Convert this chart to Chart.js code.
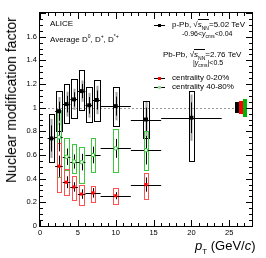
<!DOCTYPE html>
<html>
<head>
<meta charset="utf-8">
<script src="https://cdn.jsdelivr.net/npm/chart.js@4"></script>
<style>
html, body { margin: 0; padding: 0; background: #fff; }
#wrap { position: relative; width: 266px; height: 258px; font-family: "Liberation Sans", Arial, sans-serif; color: #000; }
#wrap canvas { position: absolute; left: 0; top: 0; }
.t { position: absolute; white-space: nowrap; font-size: 8px; line-height: 8px; }
.t sub, .t sup { font-size: 5px; line-height: 0; }
.ov { border-top: 0.8px solid #000; }
</style>
</head>
<body>
<div id="wrap">
  <canvas id="chart" width="266" height="258"></canvas>
  <div class="t" style="left:50px;top:20px;">ALICE</div>
  <div class="t" style="left:50px;top:36px;">Average D<sup>0</sup>, D<sup>+</sup>, D<sup>*+</sup></div>
  <div class="t" style="left:172px;top:21px;">p-Pb, √<span class="ov"><i>s</i><sub>NN</sub></span>=5.02 TeV</div>
  <div class="t" style="left:182px;top:30px;font-size:7px;">-0.96&lt;<i>y</i><sub>cms</sub>&lt;0.04</div>
  <div class="t" style="left:163px;top:51px;">Pb-Pb, √<span class="ov"><i>s</i><sub>NN</sub></span>=2.76 TeV</div>
  <div class="t" style="left:193px;top:59px;font-size:7px;">|<i>y</i><sub>cms</sub>|&lt;0.5</div>
  <div class="t" style="left:172px;top:74px;">centrality 0-20%</div>
  <div class="t" style="left:172px;top:83px;">centrality 40-80%</div>
  <div class="t" style="left:195px;top:239px;font-size:13px;line-height:13px;"><i>p</i><sub style="font-size:8px;">T</sub> (GeV/<i>c</i>)</div>
  <div class="t" style="left:11px;top:100px;font-size:14px;line-height:14px;transform:translate(-50%,-50%) rotate(-90deg);">Nuclear modification factor</div>
</div>
<script>
'use strict';

// p-Pb, sqrt(sNN) = 5.02 TeV
const ppbPt = [1.5, 2.5, 3.5, 4.5, 5.5, 6.5, 7.5, 10, 14, 20];
const ppbPtLow = [1, 2, 3, 4, 5, 6, 7, 8, 12, 16];
const ppbPtHigh = [2, 3, 4, 5, 6, 7, 8, 12, 16, 24];
const ppbR = [0.74, 0.97, 1.03, 1.07, 1.14, 1.02, 1.065, 1.013, 0.90, 0.915];
const ppbStat = [0.11, 0.08, 0.07, 0.06, 0.06, 0.07, 0.08, 0.08, 0.10, 0.13];
const ppbSysLow = [0.54, 0.80, 0.87, 0.91, 0.98, 0.88, 0.89, 0.845, 0.74, 0.55];
const ppbSysHigh = [0.945, 1.14, 1.20, 1.24, 1.32, 1.175, 1.23, 1.175, 1.055, 1.14];

// Pb-Pb, sqrt(sNN) = 2.76 TeV
const pbpbPt = [2.5, 3.5, 4.5, 5.5, 7, 10, 14];
const pbpbPtLow = [2, 3, 4, 5, 6, 8, 12];
const pbpbPtHigh = [3, 4, 5, 6, 8, 12, 16];
// centrality 0-20%
const centralR = [0.505, 0.37, 0.33, 0.27, 0.28, 0.256, 0.35];
const centralStat = [0.09, 0.05, 0.04, 0.04, 0.04, 0.03, 0.06];
const centralSysLow = [0.285, 0.26, 0.22, 0.175, 0.20, 0.19, 0.23];
const centralSysHigh = [0.70, 0.48, 0.42, 0.35, 0.34, 0.32, 0.45];
// centrality 40-80%
const periphR = [0.75, 0.585, 0.545, 0.54, 0.60, 0.656, 0.64];
const periphStat = [0.12, 0.07, 0.06, 0.07, 0.07, 0.08, 0.12];
const periphSysLow = [0.41, 0.475, 0.45, 0.36, 0.46, 0.46, 0.47];
const periphSysHigh = [0.98, 0.74, 0.69, 0.67, 0.74, 0.816, 0.80];

// normalisation uncertainties around unity (p-Pb, 0-20%, 40-80%)
const normLow = [0.951, 0.943, 0.922];
const normHigh = [1.044, 1.055, 1.072];
const normColors = ['#000000', '#ff0000', '#00b400'];

const xTicks = [0, 5, 10, 15, 20, 25];
const yTicks = [0, 0.2, 0.4, 0.6, 0.8, 1, 1.2, 1.4, 1.6];

const RED = '#ff0000';
const RED_BOX = '#ff5050';
const GREEN = '#33bb33';
const GREEN_BOX = '#3cc83c';

function toPoints(xs, ys) {
    return xs.map(function(x, i) { return { x: x, y: ys[i] }; });
}

function crisp(v) {
    return Math.round(v) + 0.5;
}

function drawBoxes(ctx, xs, lows, highs, halfWidth, color, xScale, yScale) {
    ctx.strokeStyle = color;
    ctx.lineWidth = 1;
    xs.forEach(function(x, i) {
        const l = crisp(xScale.getPixelForValue(x - halfWidth));
        const r = crisp(xScale.getPixelForValue(x + halfWidth));
        const t = crisp(yScale.getPixelForValue(highs[i]));
        const b = crisp(yScale.getPixelForValue(lows[i]));
        ctx.strokeRect(l, t, r - l, b - t);
    });
}

function drawErrors(ctx, xs, xl, xh, ys, stat, color, xScale, yScale) {
    ctx.strokeStyle = color;
    ctx.lineWidth = 1;
    xs.forEach(function(x, i) {
        const px = crisp(xScale.getPixelForValue(x));
        const py = crisp(yScale.getPixelForValue(ys[i]));
        ctx.beginPath();
        ctx.moveTo(xScale.getPixelForValue(xl[i]), py);
        ctx.lineTo(xScale.getPixelForValue(xh[i]), py);
        ctx.moveTo(px, yScale.getPixelForValue(ys[i] + stat[i]));
        ctx.lineTo(px, yScale.getPixelForValue(ys[i] - stat[i]));
        ctx.stroke();
    });
}

const errorPlugin = {
    id: 'errorPlugin',
    beforeDatasetsDraw: function(chart) {
        const ctx = chart.ctx;
        const xs = chart.scales.x;
        const ys = chart.scales.y;
        const area = chart.chartArea;
        ctx.save();

        // reference line at unity
        ctx.strokeStyle = '#999';
        ctx.setLineDash([2, 2]);
        ctx.beginPath();
        ctx.moveTo(area.left, crisp(ys.getPixelForValue(1)));
        ctx.lineTo(area.right, crisp(ys.getPixelForValue(1)));
        ctx.stroke();
        ctx.setLineDash([]);

        // p-Pb grey band behind the stat bars
        ctx.strokeStyle = '#a0a0a0';
        ctx.lineWidth = 2;
        ppbPt.forEach(function(x, i) {
            const px = Math.round(xs.getPixelForValue(x)) + 0.5;
            ctx.beginPath();
            ctx.moveTo(px, ys.getPixelForValue(ppbR[i] + ppbStat[i] * 1.5));
            ctx.lineTo(px, ys.getPixelForValue(ppbR[i] - ppbStat[i] * 1.5));
            ctx.stroke();
        });

        drawBoxes(ctx, ppbPt, ppbSysLow, ppbSysHigh, 0.37, '#000', xs, ys);
        drawErrors(ctx, ppbPt, ppbPtLow, ppbPtHigh, ppbR, ppbStat, '#000', xs, ys);
        drawBoxes(ctx, pbpbPt, periphSysLow, periphSysHigh, 0.3, GREEN_BOX, xs, ys);
        drawBoxes(ctx, pbpbPt, centralSysLow, centralSysHigh, 0.3, RED_BOX, xs, ys);
        drawErrors(ctx, pbpbPt, pbpbPtLow, pbpbPtHigh, periphR, periphStat, '#000', xs, ys);
        drawErrors(ctx, pbpbPt, pbpbPtLow, pbpbPtHigh, centralR, centralStat, '#000', xs, ys);

        // normalisation boxes at the right edge
        const normX = [26.0, 26.55, 27.1];
        normX.forEach(function(x, i) {
            const l = Math.round(xs.getPixelForValue(x - 0.27));
            const r = Math.round(xs.getPixelForValue(x + 0.27));
            const t = Math.round(ys.getPixelForValue(normHigh[i]));
            const b = Math.round(ys.getPixelForValue(normLow[i]));
            ctx.fillStyle = normColors[i];
            ctx.fillRect(l, t, r - l, b - t);
        });

        ctx.restore();
    },
    afterDatasetsDraw: function(chart) {
        const ctx = chart.ctx;
        const xs = chart.scales.x;
        const ys = chart.scales.y;
        const a = chart.chartArea;
        ctx.save();
        ctx.strokeStyle = '#000';
        ctx.lineWidth = 1;
        ctx.strokeRect(crisp(a.left) - 1, crisp(a.top) - 1, Math.round(a.right - a.left) + 1, Math.round(a.bottom - a.top) + 1);

        ctx.beginPath();
        for (let v = 0; v <= 28; v += 1) {
            const px = crisp(xs.getPixelForValue(v));
            const len = v % 5 === 0 ? 6 : 3;
            ctx.moveTo(px, a.bottom);
            ctx.lineTo(px, a.bottom - len);
            ctx.moveTo(px, a.top);
            ctx.lineTo(px, a.top + len);
        }
        for (let k = 0; k <= 36; k++) {
            const py = crisp(ys.getPixelForValue(k * 0.05));
            const len = k % 4 === 0 ? 6 : 3;
            ctx.moveTo(a.left, py);
            ctx.lineTo(a.left + len, py);
            ctx.moveTo(a.right, py);
            ctx.lineTo(a.right - len, py);
        }
        ctx.stroke();

        // legend glyphs
        const legend = [
            { y: 25, color: '#000', style: 'square' },
            { y: 78, color: RED, style: 'square' },
            { y: 87, color: GREEN, style: 'circle' }
        ];
        legend.forEach(function(item) {
            ctx.strokeStyle = '#000';
            ctx.beginPath();
            ctx.moveTo(154, item.y + 0.5);
            ctx.lineTo(165, item.y + 0.5);
            ctx.stroke();
            ctx.fillStyle = item.color;
            if (item.style === 'square') {
                ctx.fillRect(158, item.y - 1, 3, 3);
            } else {
                ctx.fillStyle = '#99dd99';
                ctx.beginPath();
                ctx.arc(159.5, item.y + 0.5, 1.8, 0, Math.PI * 2);
                ctx.fill();
            }
        });
        ctx.restore();
    }
};

const ctx = document.getElementById('chart');
new Chart(ctx, {
    type: 'scatter',
    data: {
        datasets: [
            {
                label: 'p-Pb',
                data: toPoints(ppbPt, ppbR),
                pointStyle: 'rect',
                pointRadius: 2.8,
                backgroundColor: '#000',
                borderColor: '#000',
                borderWidth: 0
            },
            {
                label: 'centrality 40-80%',
                data: toPoints(pbpbPt, periphR),
                pointStyle: 'circle',
                pointRadius: 1.8,
                backgroundColor: '#ffffff',
                borderColor: GREEN,
                borderWidth: 1
            },
            {
                label: 'centrality 0-20%',
                data: toPoints(pbpbPt, centralR),
                pointStyle: 'rect',
                pointRadius: 2.2,
                backgroundColor: RED,
                borderColor: RED,
                borderWidth: 0
            }
        ]
    },
    options: {
        responsive: false,
        animation: false,
        devicePixelRatio: 1,
        layout: {
            padding: { top: 13, right: 14, left: 0, bottom: 0 }
        },
        plugins: {
            legend: { display: false },
            tooltip: { enabled: false },
            title: { display: false }
        },
        scales: {
            x: {
                type: 'linear',
                min: 0,
                max: 28,
                grid: { display: false, drawTicks: false, tickLength: 0 },
                border: { display: false },
                afterFit: function(scale) { scale.height = 32; },
                afterBuildTicks: function(scale) {
                    scale.ticks = xTicks.map(function(v) { return { value: v }; });
                },
                ticks: {
                    color: '#000',
                    padding: 2,
                    maxRotation: 0,
                    font: { family: '"Liberation Sans", Arial, sans-serif', size: 7.5 },
                    callback: function(value) { return String(value); }
                }
            },
            y: {
                type: 'linear',
                min: 0,
                max: 1.8,
                grid: { display: false, drawTicks: false, tickLength: 0 },
                border: { display: false },
                afterFit: function(scale) { scale.width = 40; },
                afterBuildTicks: function(scale) {
                    scale.ticks = yTicks.map(function(v) { return { value: v }; });
                },
                ticks: {
                    color: '#000',
                    padding: 3,
                    font: { family: '"Liberation Sans", Arial, sans-serif', size: 7.5 },
                    callback: function(value) {
                        return String(Math.round(value * 10) / 10);
                    }
                }
            }
        }
    },
    plugins: [errorPlugin]
});
</script>
</body>
</html>
